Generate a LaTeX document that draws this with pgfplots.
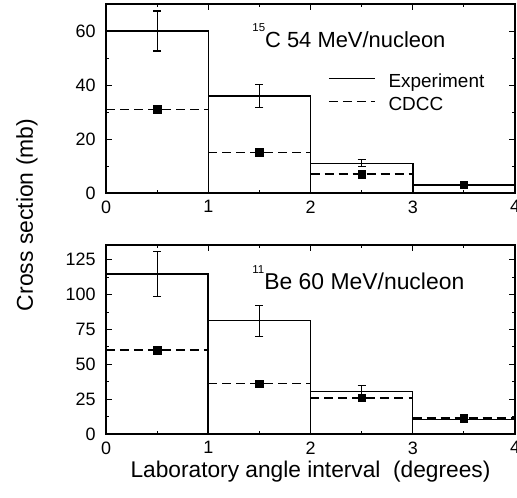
\documentclass[border=0pt]{standalone}
\usepackage{fontspec}
\setmainfont{Liberation Sans}
\usepackage{pgfplots}
\pgfplotsset{compat=1.18}
\pgfplotsset{
  panel/.style={
    scale only axis, width=409bp, height=189bp,
    xmin=0, xmax=4, xtick={0,1,2,3,4}, minor x tick num=1,
    tick align=inside, tick pos=both,
    major tick length=6bp, minor tick length=3bp,
    axis line style={line width=1.3bp},
    every tick/.style={line width=0.9bp, black},
    tick label style={font=\fontsize{18}{20}\selectfont},
    /pgf/number format/assume math mode=true,
    xticklabel style={yshift=-4bp},
    yticklabel style={xshift=-7bp},
    unbounded coords=jump,
  },
  hist/.style={ybar interval, draw=black, fill=none, line width=1.5bp},
  cdcc/.style={black, line width=1.5bp, dash pattern=on 9bp off 5bp, mark=none},
  sq/.style={only marks, mark=square*, mark size=3.8bp, black, forget plot},
  eb/.style={draw=none, mark=none, forget plot,
    error bars/.cd, y dir=both, y explicit,
    error bar style={line width=1.1bp, draw=black, solid},
    error mark options={rotate=90, mark size=4bp, line width=1.1bp, draw=black, solid}},
}
\begin{document}
\begin{tikzpicture}[x=1bp,y=1bp]
% top panel
\begin{axis}[panel, at={(0bp,241bp)}, anchor=south west,
  ymin=0, ymax=70, ytick={0,20,40,60}, minor y tick num=1,
  legend cell align=left,
  legend style={draw=none, fill=none, at={(axis cs:2.17,44.1)}, anchor=north west,
    font=\fontsize{19}{21}\selectfont, inner sep=0pt, row sep=8bp,
    nodes={inner sep=0pt}},
]
\addplot[hist, legend image code/.code={\draw[black, line width=1.5bp] (0bp,3bp) -- (46bp,3bp); \path (59bp,0bp);}]
  coordinates {(0,60) (1,36) (2,11) (3,3) (4,3)};
\addlegendentry{Experiment}
\addplot[cdcc, legend image code/.code={\draw[black, line width=1.5bp, dash pattern=on 9bp off 5bp] (0bp,3bp) -- (46bp,3bp); \path (59bp,0bp);}]
  coordinates {(0,31) (1,31) (1.5,nan) (1,15) (2,15) (2.5,nan) (2,7) (3,7) (3.5,nan) (3,3) (4,3)};
\addlegendentry{CDCC}
\addplot[sq] coordinates {(0.5,31) (1.5,15) (2.5,7) (3.5,3)};
\addplot[eb] coordinates {(0.5,60) +- (0,7.4) (1.5,36) +- (0,4.3) (2.5,11) +- (0,1.3)};
\node[anchor=base west, font=\fontsize{22}{23}\selectfont, inner sep=0pt]
  at (axis cs:1.43,54) {\raisebox{0.72em}{\fontsize{11.5}{12}\selectfont 15}C 54 MeV/nucleon};
\end{axis}
% bottom panel
\begin{axis}[panel, at={(0bp,0bp)}, anchor=south west,
  ymin=0, ymax=135.5, ytick={0,25,50,75,100,125}, minor y tick num=1,
  xlabel={Laboratory angle interval\ \ (degrees)},
  xlabel style={font=\fontsize{22.8}{24}\selectfont, at={(axis description cs:0.5,0)}, anchor=base, yshift=-43bp, inner sep=0pt},
]
\addplot[hist] coordinates {(0,114.7) (1,81.2) (2,30.5) (3,10.3) (4,10.3)};
\addplot[cdcc] coordinates {(0,60.2) (1,60.2) (1.5,nan) (1,36.2) (2,36.2) (2.5,nan) (2,25.9) (3,25.9) (3.5,nan) (3,11.3) (4,11.3)};
\addplot[sq] coordinates {(0.5,60.2) (1.5,36.2) (2.5,25.9) (3.5,11.3)};
\addplot[eb] coordinates {(0.5,114.7) +- (0,16.3) (1.5,81) +- (0,11) (2.5,30.5) +- (0,4)};
\node[anchor=base west, font=\fontsize{23}{24}\selectfont, inner sep=0pt]
  at (axis cs:1.43,103.4) {\raisebox{0.72em}{\fontsize{11.5}{12}\selectfont 11}Be 60 MeV/nucleon};
\end{axis}
\node[rotate=90, font=\fontsize{23}{24}\selectfont, inner sep=0pt] at (-79bp,219bp) {Cross section (mb)};
\pgfresetboundingbox
\path[use as bounding box] (-106bp,-64bp) rectangle (411bp,434bp);
\end{tikzpicture}
\end{document}
